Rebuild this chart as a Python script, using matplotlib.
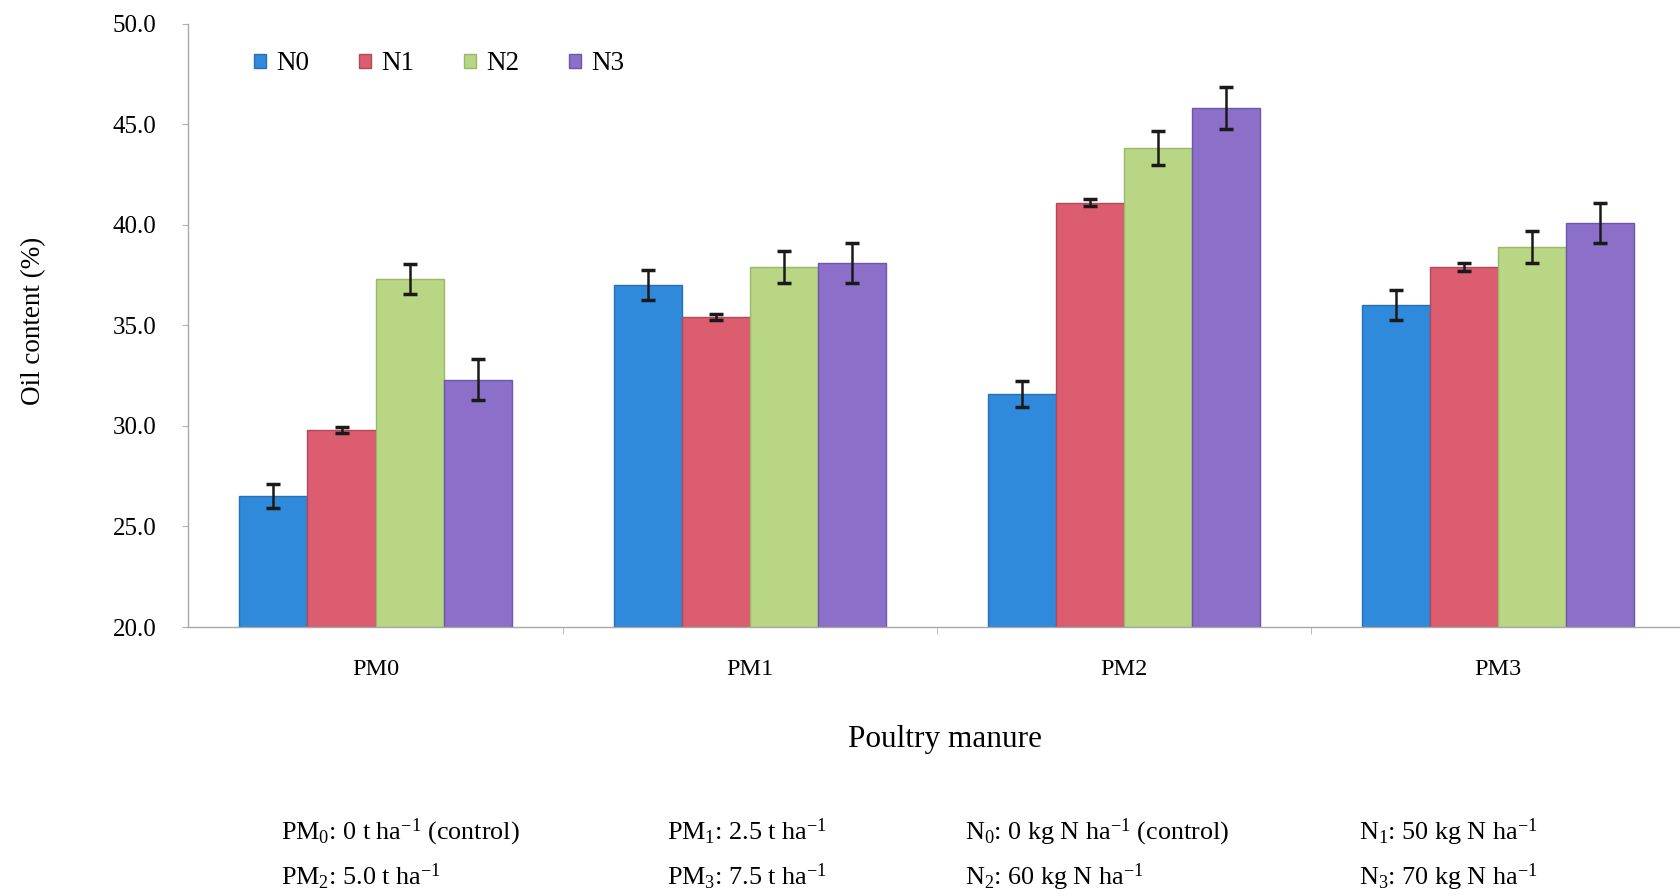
import numpy as np
import matplotlib
matplotlib.use("Agg")
import matplotlib.pyplot as plt
from matplotlib.patches import Patch

plt.rcParams["font.family"] = ["Liberation Serif", "DejaVu Serif"]
plt.rcParams["mathtext.fontset"] = "custom"
plt.rcParams["mathtext.rm"] = "Liberation Serif"
plt.rcParams["mathtext.it"] = "Liberation Serif:italic"

# Oil content (%) per poultry-manure level, one series per nitrogen level
categories = ["PM0", "PM1", "PM2", "PM3"]
series_names = ["N0", "N1", "N2", "N3"]
n0 = [26.5, 37.0, 31.6, 36.0]
n1 = [29.8, 35.4, 41.1, 37.9]
n2 = [37.3, 37.9, 43.8, 38.9]
n3 = [32.3, 38.1, 45.8, 40.1]
n0_err = [0.6, 0.75, 0.65, 0.75]
n1_err = [0.15, 0.15, 0.18, 0.18]
n2_err = [0.75, 0.78, 0.85, 0.8]
n3_err = [1.0, 1.0, 1.05, 1.0]
y_ticks = [20.0, 25.0, 30.0, 35.0, 40.0, 45.0, 50.0]

notes_row1 = [r"PM$_{0}$: 0 t ha$^{-1}$ (control)", r"PM$_{1}$: 2.5 t ha$^{-1}$",
              r"N$_{0}$: 0 kg N ha$^{-1}$ (control)", r"N$_{1}$: 50 kg N ha$^{-1}$"]
notes_row2 = [r"PM$_{2}$: 5.0 t ha$^{-1}$", r"PM$_{3}$: 7.5 t ha$^{-1}$",
              r"N$_{2}$: 60 kg N ha$^{-1}$", r"N$_{3}$: 70 kg N ha$^{-1}$"]

colors = ["#2F8ADC", "#DC5C70", "#B8D684", "#8B6FC8"]
edges = ["#2A6FB0", "#B04A5A", "#98B86A", "#6E56A8"]

values = [n0, n1, n2, n3]
errors = [n0_err, n1_err, n2_err, n3_err]

W, H = 1681, 896
fig = plt.figure(figsize=(W / 100, H / 100), dpi=100)
ax = fig.add_axes([188.5 / W, (H - 627) / H, 1496.5 / W, 603.4 / H])

x = np.arange(len(categories))
bw = 0.182
for i, (vals, errs) in enumerate(zip(values, errors)):
    pos = x + (i - 1.5) * bw
    ax.bar(pos, np.array(vals) - 20.0, bottom=20.0, width=bw,
           color=colors[i], edgecolor=edges[i], linewidth=1.0, zorder=2)
    ax.errorbar(pos, vals, yerr=errs, fmt="none", ecolor="#1a1a1a",
                elinewidth=1.8, capsize=5, capthick=2.5, zorder=3)

ax.set_xlim(-0.5, 3.5)
ax.set_ylim(20, 50)
ax.set_yticks(y_ticks)
ax.set_yticklabels([f"{v:.1f}" for v in y_ticks])
ax.set_xticks(x)
ax.set_xticklabels(categories)
ax.set_xticks([0.5, 1.5, 2.5], minor=True)
ax.tick_params(axis="x", which="major", length=0, pad=23, labelsize=17.5)
ax.tick_params(axis="x", which="minor", length=5, color="#B0B0B0")
ax.tick_params(axis="y", length=4, pad=19, labelsize=18, color="#B0B0B0")

for s in ["top", "right"]:
    ax.spines[s].set_visible(False)
for s in ["left", "bottom"]:
    ax.spines[s].set_color("#A8A8A8")
    ax.spines[s].set_linewidth(1.0)

handles = [Patch(facecolor=colors[i], edgecolor=edges[i]) for i in range(4)]
ax.legend(handles, series_names, loc="center left",
          bbox_to_anchor=((254 - 188.5) / 1496.5, (627 - 64) / 603.4),
          ncol=4, frameon=False, fontsize=19.5, handlelength=0.44, handleheight=0.44,
          handletextpad=0.37, columnspacing=1.85, borderpad=0, borderaxespad=0)

fig.text(34 / W, 1 - 321 / H, "Oil content (%)", rotation=90,
         ha="center", va="center", fontsize=19.5)
fig.text(945 / W, 1 - 740 / H, "Poultry manure", ha="center", va="center", fontsize=22.5)

col_x = [281, 667, 965, 1359]
for cx, t1, t2 in zip(col_x, notes_row1, notes_row2):
    fig.text(cx / W, 1 - 832 / H, t1, ha="left", va="center", fontsize=18.8)
    fig.text(cx / W, 1 - 877 / H, t2, ha="left", va="center", fontsize=18.8)

fig.savefig("out.png", dpi=100, facecolor="white")
